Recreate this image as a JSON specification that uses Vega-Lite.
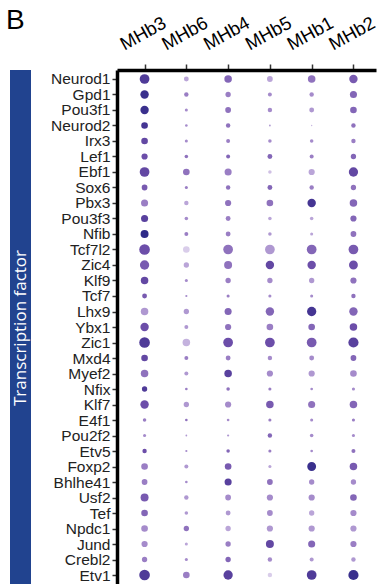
{
"$schema": "https://vega.github.io/schema/vega-lite/v6.json",
"padding": {"left": 6, "top": 7, "right": 0, "bottom": 0},
"title": {"text": "B", "anchor": "start", "fontSize": 28, "font": "Liberation Sans", "fontWeight": "normal", "color": "black", "dx": -4, "dy": 22, "offset": 0},
"bounds": "flush",
"spacing": 86,
"config": {"view": {"stroke": null}},
"hconcat": [
{"width": 21, "height": 516,
 "data": {"values": [{"label": "Transcription factor"}]},
 "layer": [
  {"mark": {"type": "rect", "color": "#21438f"}, "encoding": {}},
  {"mark": {"type": "text", "angle": 270, "color": "white", "font": "Open Sans", "fontSize": 17, "align": "center", "baseline": "middle"}, "encoding": {"text": {"field": "label"}}}
 ]},
{"width": 259, "height": 516,
 "data": {"values": [
{"tf":"Neurod1","cl":"MHb3","d":11,"e":0.85},{"tf":"Neurod1","cl":"MHb6","d":5.5,"e":0.35},{"tf":"Neurod1","cl":"MHb4","d":8.5,"e":0.6},{"tf":"Neurod1","cl":"MHb5","d":6.5,"e":0.35},{"tf":"Neurod1","cl":"MHb1","d":8.5,"e":0.55},{"tf":"Neurod1","cl":"MHb2","d":9.5,"e":0.65},
{"tf":"Gpd1","cl":"MHb3","d":9.5,"e":0.95},{"tf":"Gpd1","cl":"MHb6","d":5,"e":0.5},{"tf":"Gpd1","cl":"MHb4","d":6,"e":0.5},{"tf":"Gpd1","cl":"MHb5","d":4.5,"e":0.45},{"tf":"Gpd1","cl":"MHb1","d":5,"e":0.45},{"tf":"Gpd1","cl":"MHb2","d":8,"e":0.6},
{"tf":"Pou3f1","cl":"MHb3","d":9.5,"e":0.95},{"tf":"Pou3f1","cl":"MHb6","d":3.5,"e":0.45},{"tf":"Pou3f1","cl":"MHb4","d":6.5,"e":0.55},{"tf":"Pou3f1","cl":"MHb5","d":5,"e":0.45},{"tf":"Pou3f1","cl":"MHb1","d":5.5,"e":0.4},{"tf":"Pou3f1","cl":"MHb2","d":7.5,"e":0.6},
{"tf":"Neurod2","cl":"MHb3","d":7.5,"e":0.9},{"tf":"Neurod2","cl":"MHb6","d":3,"e":0.45},{"tf":"Neurod2","cl":"MHb4","d":5,"e":0.55},{"tf":"Neurod2","cl":"MHb5","d":2,"e":0.4},{"tf":"Neurod2","cl":"MHb1","d":1.5,"e":0.3},{"tf":"Neurod2","cl":"MHb2","d":5,"e":0.55},
{"tf":"Irx3","cl":"MHb3","d":7.5,"e":0.75},{"tf":"Irx3","cl":"MHb6","d":3.5,"e":0.45},{"tf":"Irx3","cl":"MHb4","d":4.5,"e":0.5},{"tf":"Irx3","cl":"MHb5","d":4,"e":0.45},{"tf":"Irx3","cl":"MHb1","d":4,"e":0.45},{"tf":"Irx3","cl":"MHb2","d":5,"e":0.5},
{"tf":"Lef1","cl":"MHb3","d":7,"e":0.7},{"tf":"Lef1","cl":"MHb6","d":4,"e":0.55},{"tf":"Lef1","cl":"MHb4","d":4.5,"e":0.6},{"tf":"Lef1","cl":"MHb5","d":5.5,"e":0.6},{"tf":"Lef1","cl":"MHb1","d":4.5,"e":0.5},{"tf":"Lef1","cl":"MHb2","d":6,"e":0.6},
{"tf":"Ebf1","cl":"MHb3","d":11,"e":0.75},{"tf":"Ebf1","cl":"MHb6","d":7.5,"e":0.55},{"tf":"Ebf1","cl":"MHb4","d":8,"e":0.5},{"tf":"Ebf1","cl":"MHb5","d":4,"e":0.25},{"tf":"Ebf1","cl":"MHb1","d":7,"e":0.35},{"tf":"Ebf1","cl":"MHb2","d":10.5,"e":0.75},
{"tf":"Sox6","cl":"MHb3","d":6.5,"e":0.65},{"tf":"Sox6","cl":"MHb6","d":3.5,"e":0.5},{"tf":"Sox6","cl":"MHb4","d":5,"e":0.55},{"tf":"Sox6","cl":"MHb5","d":5.5,"e":0.6},{"tf":"Sox6","cl":"MHb1","d":5,"e":0.5},{"tf":"Sox6","cl":"MHb2","d":6,"e":0.55},
{"tf":"Pbx3","cl":"MHb3","d":8,"e":0.5},{"tf":"Pbx3","cl":"MHb6","d":5,"e":0.35},{"tf":"Pbx3","cl":"MHb4","d":7,"e":0.55},{"tf":"Pbx3","cl":"MHb5","d":7.5,"e":0.55},{"tf":"Pbx3","cl":"MHb1","d":9.5,"e":0.9},{"tf":"Pbx3","cl":"MHb2","d":8.5,"e":0.6},
{"tf":"Pou3f3","cl":"MHb3","d":8,"e":0.8},{"tf":"Pou3f3","cl":"MHb6","d":4,"e":0.45},{"tf":"Pou3f3","cl":"MHb4","d":5.5,"e":0.5},{"tf":"Pou3f3","cl":"MHb5","d":4,"e":0.35},{"tf":"Pou3f3","cl":"MHb1","d":4,"e":0.35},{"tf":"Pou3f3","cl":"MHb2","d":7,"e":0.6},
{"tf":"Nfib","cl":"MHb3","d":9,"e":1},{"tf":"Nfib","cl":"MHb6","d":4.5,"e":0.5},{"tf":"Nfib","cl":"MHb4","d":5.5,"e":0.5},{"tf":"Nfib","cl":"MHb5","d":4,"e":0.4},{"tf":"Nfib","cl":"MHb1","d":3.5,"e":0.35},{"tf":"Nfib","cl":"MHb2","d":6.5,"e":0.55},
{"tf":"Tcf7l2","cl":"MHb3","d":12,"e":0.7},{"tf":"Tcf7l2","cl":"MHb6","d":7.5,"e":0.2},{"tf":"Tcf7l2","cl":"MHb4","d":11,"e":0.55},{"tf":"Tcf7l2","cl":"MHb5","d":11,"e":0.4},{"tf":"Tcf7l2","cl":"MHb1","d":11,"e":0.6},{"tf":"Tcf7l2","cl":"MHb2","d":11,"e":0.65},
{"tf":"Zic4","cl":"MHb3","d":10.5,"e":0.65},{"tf":"Zic4","cl":"MHb6","d":6,"e":0.35},{"tf":"Zic4","cl":"MHb4","d":9,"e":0.55},{"tf":"Zic4","cl":"MHb5","d":9.5,"e":0.75},{"tf":"Zic4","cl":"MHb1","d":9.5,"e":0.7},{"tf":"Zic4","cl":"MHb2","d":10,"e":0.7},
{"tf":"Klf9","cl":"MHb3","d":8.5,"e":0.75},{"tf":"Klf9","cl":"MHb6","d":3.5,"e":0.45},{"tf":"Klf9","cl":"MHb4","d":6,"e":0.5},{"tf":"Klf9","cl":"MHb5","d":6,"e":0.45},{"tf":"Klf9","cl":"MHb1","d":6,"e":0.4},{"tf":"Klf9","cl":"MHb2","d":7,"e":0.55},
{"tf":"Tcf7","cl":"MHb3","d":5.5,"e":0.65},{"tf":"Tcf7","cl":"MHb6","d":2.5,"e":0.45},{"tf":"Tcf7","cl":"MHb4","d":3.5,"e":0.5},{"tf":"Tcf7","cl":"MHb5","d":3.5,"e":0.45},{"tf":"Tcf7","cl":"MHb1","d":3.5,"e":0.45},{"tf":"Tcf7","cl":"MHb2","d":5,"e":0.55},
{"tf":"Lhx9","cl":"MHb3","d":8.5,"e":0.4},{"tf":"Lhx9","cl":"MHb6","d":6,"e":0.4},{"tf":"Lhx9","cl":"MHb4","d":8,"e":0.6},{"tf":"Lhx9","cl":"MHb5","d":9.5,"e":0.6},{"tf":"Lhx9","cl":"MHb1","d":10.5,"e":0.9},{"tf":"Lhx9","cl":"MHb2","d":9.5,"e":0.6},
{"tf":"Ybx1","cl":"MHb3","d":9.5,"e":0.7},{"tf":"Ybx1","cl":"MHb6","d":4.5,"e":0.4},{"tf":"Ybx1","cl":"MHb4","d":7,"e":0.55},{"tf":"Ybx1","cl":"MHb5","d":7.5,"e":0.5},{"tf":"Ybx1","cl":"MHb1","d":7.5,"e":0.6},{"tf":"Ybx1","cl":"MHb2","d":8.5,"e":0.7},
{"tf":"Zic1","cl":"MHb3","d":12,"e":0.85},{"tf":"Zic1","cl":"MHb6","d":8.5,"e":0.3},{"tf":"Zic1","cl":"MHb4","d":11,"e":0.7},{"tf":"Zic1","cl":"MHb5","d":11,"e":0.7},{"tf":"Zic1","cl":"MHb1","d":11,"e":0.65},{"tf":"Zic1","cl":"MHb2","d":11.5,"e":0.8},
{"tf":"Mxd4","cl":"MHb3","d":7.5,"e":0.75},{"tf":"Mxd4","cl":"MHb6","d":4.5,"e":0.5},{"tf":"Mxd4","cl":"MHb4","d":5.5,"e":0.5},{"tf":"Mxd4","cl":"MHb5","d":5,"e":0.45},{"tf":"Mxd4","cl":"MHb1","d":5.5,"e":0.45},{"tf":"Mxd4","cl":"MHb2","d":6.5,"e":0.6},
{"tf":"Myef2","cl":"MHb3","d":8.5,"e":0.55},{"tf":"Myef2","cl":"MHb6","d":4.5,"e":0.4},{"tf":"Myef2","cl":"MHb4","d":8.5,"e":0.8},{"tf":"Myef2","cl":"MHb5","d":7,"e":0.45},{"tf":"Myef2","cl":"MHb1","d":7,"e":0.4},{"tf":"Myef2","cl":"MHb2","d":7.5,"e":0.45},
{"tf":"Nfix","cl":"MHb3","d":6,"e":0.85},{"tf":"Nfix","cl":"MHb6","d":3,"e":0.5},{"tf":"Nfix","cl":"MHb4","d":4,"e":0.55},{"tf":"Nfix","cl":"MHb5","d":3.5,"e":0.5},{"tf":"Nfix","cl":"MHb1","d":3,"e":0.45},{"tf":"Nfix","cl":"MHb2","d":3.5,"e":0.45},
{"tf":"Klf7","cl":"MHb3","d":9.5,"e":0.7},{"tf":"Klf7","cl":"MHb6","d":6,"e":0.4},{"tf":"Klf7","cl":"MHb4","d":7,"e":0.45},{"tf":"Klf7","cl":"MHb5","d":8.5,"e":0.65},{"tf":"Klf7","cl":"MHb1","d":8,"e":0.55},{"tf":"Klf7","cl":"MHb2","d":8.5,"e":0.6},
{"tf":"E4f1","cl":"MHb3","d":4,"e":0.5},{"tf":"E4f1","cl":"MHb6","d":3,"e":0.55},{"tf":"E4f1","cl":"MHb4","d":3,"e":0.45},{"tf":"E4f1","cl":"MHb5","d":3.5,"e":0.5},{"tf":"E4f1","cl":"MHb1","d":3.5,"e":0.45},{"tf":"E4f1","cl":"MHb2","d":3.5,"e":0.5},
{"tf":"Pou2f2","cl":"MHb3","d":3.5,"e":0.45},{"tf":"Pou2f2","cl":"MHb6","d":2,"e":0.4},{"tf":"Pou2f2","cl":"MHb4","d":2.5,"e":0.4},{"tf":"Pou2f2","cl":"MHb5","d":5,"e":0.6},{"tf":"Pou2f2","cl":"MHb1","d":4,"e":0.45},{"tf":"Pou2f2","cl":"MHb2","d":3.5,"e":0.45},
{"tf":"Etv5","cl":"MHb3","d":5,"e":0.7},{"tf":"Etv5","cl":"MHb6","d":2.5,"e":0.45},{"tf":"Etv5","cl":"MHb4","d":4,"e":0.6},{"tf":"Etv5","cl":"MHb5","d":3.5,"e":0.5},{"tf":"Etv5","cl":"MHb1","d":3,"e":0.45},{"tf":"Etv5","cl":"MHb2","d":4.5,"e":0.55},
{"tf":"Foxp2","cl":"MHb3","d":7.5,"e":0.5},{"tf":"Foxp2","cl":"MHb6","d":4.5,"e":0.4},{"tf":"Foxp2","cl":"MHb4","d":7.5,"e":0.65},{"tf":"Foxp2","cl":"MHb5","d":3.5,"e":0.35},{"tf":"Foxp2","cl":"MHb1","d":10,"e":0.95},{"tf":"Foxp2","cl":"MHb2","d":8.5,"e":0.65},
{"tf":"Bhlhe41","cl":"MHb3","d":6.5,"e":0.5},{"tf":"Bhlhe41","cl":"MHb6","d":3,"e":0.45},{"tf":"Bhlhe41","cl":"MHb4","d":8,"e":0.8},{"tf":"Bhlhe41","cl":"MHb5","d":6.5,"e":0.55},{"tf":"Bhlhe41","cl":"MHb1","d":6,"e":0.45},{"tf":"Bhlhe41","cl":"MHb2","d":6,"e":0.45},
{"tf":"Usf2","cl":"MHb3","d":9,"e":0.65},{"tf":"Usf2","cl":"MHb6","d":5,"e":0.4},{"tf":"Usf2","cl":"MHb4","d":6.5,"e":0.45},{"tf":"Usf2","cl":"MHb5","d":7,"e":0.45},{"tf":"Usf2","cl":"MHb1","d":7,"e":0.45},{"tf":"Usf2","cl":"MHb2","d":7.5,"e":0.6},
{"tf":"Tef","cl":"MHb3","d":7.5,"e":0.6},{"tf":"Tef","cl":"MHb6","d":4,"e":0.4},{"tf":"Tef","cl":"MHb4","d":5.5,"e":0.4},{"tf":"Tef","cl":"MHb5","d":6.5,"e":0.45},{"tf":"Tef","cl":"MHb1","d":6,"e":0.35},{"tf":"Tef","cl":"MHb2","d":7,"e":0.45},
{"tf":"Npdc1","cl":"MHb3","d":7.5,"e":0.45},{"tf":"Npdc1","cl":"MHb6","d":6,"e":0.55},{"tf":"Npdc1","cl":"MHb4","d":6,"e":0.35},{"tf":"Npdc1","cl":"MHb5","d":7,"e":0.4},{"tf":"Npdc1","cl":"MHb1","d":7,"e":0.4},{"tf":"Npdc1","cl":"MHb2","d":7,"e":0.4},
{"tf":"Jund","cl":"MHb3","d":7,"e":0.45},{"tf":"Jund","cl":"MHb6","d":3.5,"e":0.35},{"tf":"Jund","cl":"MHb4","d":6,"e":0.5},{"tf":"Jund","cl":"MHb5","d":9,"e":0.75},{"tf":"Jund","cl":"MHb1","d":8,"e":0.6},{"tf":"Jund","cl":"MHb2","d":7,"e":0.5},
{"tf":"Crebl2","cl":"MHb3","d":6,"e":0.5},{"tf":"Crebl2","cl":"MHb6","d":3.5,"e":0.45},{"tf":"Crebl2","cl":"MHb4","d":6,"e":0.6},{"tf":"Crebl2","cl":"MHb5","d":5,"e":0.45},{"tf":"Crebl2","cl":"MHb1","d":4.5,"e":0.4},{"tf":"Crebl2","cl":"MHb2","d":5,"e":0.4},
{"tf":"Etv1","cl":"MHb3","d":12,"e":0.85},{"tf":"Etv1","cl":"MHb6","d":7.5,"e":0.5},{"tf":"Etv1","cl":"MHb4","d":10.5,"e":0.8},{"tf":"Etv1","cl":"MHb5","d":5,"e":0.2},{"tf":"Etv1","cl":"MHb1","d":11,"e":0.85},{"tf":"Etv1","cl":"MHb2","d":11.5,"e":0.95}
 ]},
 "mark": {"type": "circle", "opacity": 1},
 "encoding": {
  "x": {"field": "cl", "type": "nominal", "sort": ["MHb3","MHb6","MHb4","MHb5","MHb1","MHb2"],
        "scale": {"type": "point", "padding": 0.6, "align": 0.55},
        "axis": {"orient": "top", "title": null, "labelAngle": -29, "labelAlign": "center", "labelBaseline": "middle", "labelPadding": 31, "labelOffset": -2, "labelFont": "Liberation Sans", "labelFontSize": 18.5, "labelColor": "black", "tickSize": 6, "tickColor": "#333", "tickWidth": 1.5, "domainColor": "black", "domainWidth": 3.5, "labelOverlap": false, "labelFlush": false}},
  "y": {"field": "tf", "type": "nominal", "sort": ["Neurod1","Gpd1","Pou3f1","Neurod2","Irx3","Lef1","Ebf1","Sox6","Pbx3","Pou3f3","Nfib","Tcf7l2","Zic4","Klf9","Tcf7","Lhx9","Ybx1","Zic1","Mxd4","Myef2","Nfix","Klf7","E4f1","Pou2f2","Etv5","Foxp2","Bhlhe41","Usf2","Tef","Npdc1","Jund","Crebl2","Etv1"],
        "scale": {"type": "point", "padding": 0.645, "align": 0.45},
        "axis": {"orient": "left", "title": null, "labelPadding": 2, "labelFont": "Liberation Sans", "labelFontSize": 15.5, "labelColor": "#222", "tickSize": 5, "tickColor": "#333", "tickWidth": 1.5, "domainColor": "black", "domainWidth": 3.5, "labelOverlap": false, "labelFlush": false}},
  "size": {"field": "d", "type": "quantitative", "scale": {"type": "pow", "exponent": 2, "domain": [0, 12], "range": [0, 113]}, "legend": null},
  "color": {"field": "e", "type": "quantitative", "scale": {"domain": [0.2, 0.45, 0.7, 1], "range": ["#d9cdea", "#a58bcb", "#6c4ea9", "#2e2a88"]}, "legend": null}
 }}
]
}
